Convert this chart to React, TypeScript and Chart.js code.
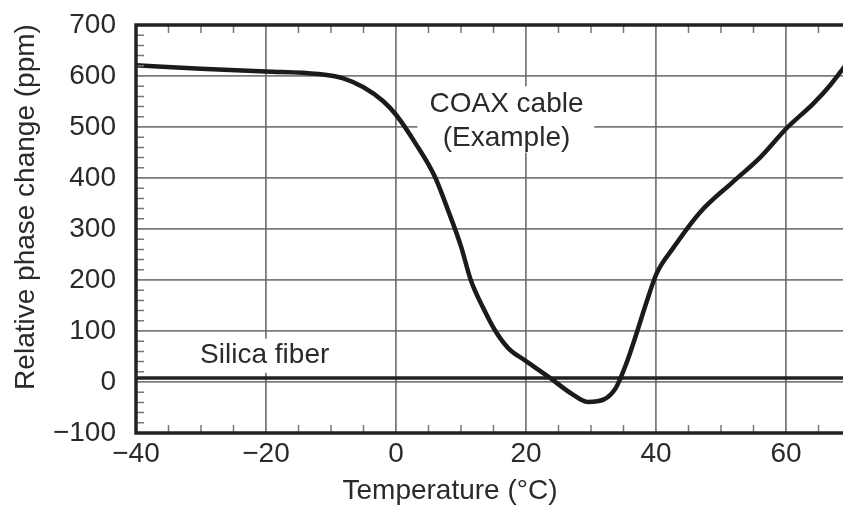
import React, { useEffect, useRef } from "react";
import { Chart, registerables } from "chart.js";

Chart.register(...registerables);

// Temperature (°C) and relative phase change (ppm)
const coaxTemp = [-40, -30, -20, -12, -8, -5, -2, 0, 3, 6, 8, 10, 11.5, 13.5, 15.2, 17.3, 20, 23.7, 26.9, 29.5, 32, 33.8, 35.4, 37, 38.5, 40.1, 42.6, 46.8, 51.8, 56, 60.2, 64.2, 66.8, 68.8, 70];
const coaxPpm = [621, 614, 609, 604, 595, 578, 551, 524, 468, 402, 337, 266, 200, 143, 102, 66, 41, 8, -22, -39, -34, -12, 35, 95, 155, 213, 262, 333, 392, 440, 499, 546, 582, 615, 635];
const silicaTemp = [-40, 70];
const silicaPpm = [8, 8];

const xTickValues = [-40, -20, 0, 20, 40, 60];
const yTickValues = [-100, 0, 100, 200, 300, 400, 500, 600, 700];

const xTitle = "Temperature (°C)";
const yTitle = "Relative phase change (ppm)";
const coaxLabel = ["COAX cable", "(Example)"];
const silicaLabel = "Silica fiber";

const FONT = "'Liberation Sans', Arial, Helvetica, sans-serif";
const TEXT_COLOR = "#2a2a2a";

const decorPlugin = {
  id: "decor",
  beforeDatasetsDraw(chart: any) {
    const { ctx } = chart;
    const xs = chart.scales.x;
    const ys = chart.scales.y;
    ctx.save();
    ctx.fillStyle = "#fff";
    // white boxes behind annotations
    ctx.fillRect(xs.getPixelForValue(3.3), ys.getPixelForValue(580), xs.getPixelForValue(30.5) - xs.getPixelForValue(3.3), ys.getPixelForValue(450) - ys.getPixelForValue(580));
    ctx.fillRect(xs.getPixelForValue(-31), ys.getPixelForValue(85), xs.getPixelForValue(-9) - xs.getPixelForValue(-31), ys.getPixelForValue(18) - ys.getPixelForValue(85));
    ctx.restore();
  },
  afterDraw(chart: any) {
    const { ctx, chartArea } = chart;
    const xs = chart.scales.x;
    const ys = chart.scales.y;
    const { left, right, top, bottom } = chartArea;
    ctx.save();
    // minor ticks
    ctx.strokeStyle = "#777";
    ctx.lineWidth = 1.5;
    const tl = 8;
    for (let v = -40; v <= 70; v += 5) {
      if (v % 20 === 0) continue;
      const px = xs.getPixelForValue(v);
      ctx.beginPath();
      ctx.moveTo(px, top); ctx.lineTo(px, top + tl);
      ctx.moveTo(px, bottom); ctx.lineTo(px, bottom - tl);
      ctx.stroke();
    }
    for (let v = -100; v <= 700; v += 20) {
      if (v % 100 === 0) continue;
      const py = ys.getPixelForValue(v);
      ctx.beginPath();
      ctx.moveTo(left, py); ctx.lineTo(left + tl, py);
      ctx.moveTo(right, py); ctx.lineTo(right - tl, py);
      ctx.stroke();
    }
    // frame
    ctx.strokeStyle = "#222";
    ctx.lineWidth = 3.5;
    ctx.strokeRect(left, top, right - left, bottom - top);

    // annotations
    ctx.fillStyle = TEXT_COLOR;
    ctx.font = `28px ${FONT}`;
    ctx.textAlign = "center";
    ctx.textBaseline = "middle";
    ctx.fillText(coaxLabel[0], xs.getPixelForValue(17), ys.getPixelForValue(545));
    ctx.fillText(coaxLabel[1], xs.getPixelForValue(17), ys.getPixelForValue(478));
    ctx.fillText(silicaLabel, xs.getPixelForValue(-20.2), ys.getPixelForValue(52));

    // axis titles
    ctx.fillText(xTitle, 450, 491);
    ctx.translate(26, 207);
    ctx.rotate(-Math.PI / 2);
    ctx.fillText(yTitle, 0, 0);
    ctx.restore();
  },
};

export default function App() {
  const canvasRef = useRef<HTMLCanvasElement | null>(null);

  useEffect(() => {
    if (!canvasRef.current) return;
    const chart = new Chart(canvasRef.current, {
      type: "line",
      data: {
        datasets: [
          {
            label: "COAX cable (Example)",
            data: coaxTemp.map((t, i) => ({ x: t, y: coaxPpm[i] })),
            borderColor: "#1b1b1b",
            borderWidth: 4.5,
            pointRadius: 0,
            cubicInterpolationMode: "monotone",
            fill: false,
          },
          {
            label: "Silica fiber",
            data: silicaTemp.map((t, i) => ({ x: t, y: silicaPpm[i] })),
            borderColor: "#222",
            borderWidth: 3.5,
            pointRadius: 0,
            fill: false,
          },
        ],
      },
      options: {
        responsive: false,
        animation: false,
        layout: { padding: { left: 0, right: 9, top: 25, bottom: 0 } },
        plugins: { legend: { display: false }, tooltip: { enabled: false }, title: { display: false } },
        scales: {
          x: {
            type: "linear",
            min: -40,
            max: 70,
            afterBuildTicks: (scale: any) => {
              scale.ticks = xTickValues.map((v) => ({ value: v }));
            },
            afterFit: (scale: any) => {
              scale.height = 73;
              scale.paddingLeft = 0;
              scale.paddingRight = 0;
            },
            ticks: {
              font: { family: FONT, size: 28 },
              color: TEXT_COLOR,
              padding: 4,
              maxRotation: 0,
              callback: (v: any) => (Number(v) < 0 ? "\u2212" + Math.abs(Number(v)) : String(v)),
            },
            grid: { color: "rgba(100,100,100,0.85)", lineWidth: 1.8, drawTicks: false },
            border: { display: false },
          },
          y: {
            type: "linear",
            min: -100,
            max: 700,
            afterBuildTicks: (scale: any) => {
              scale.ticks = yTickValues.map((v) => ({ value: v }));
            },
            afterFit: (scale: any) => {
              scale.width = 136;
              scale.paddingTop = 0;
              scale.paddingBottom = 0;
            },
            ticks: {
              font: { family: FONT, size: 28 },
              color: TEXT_COLOR,
              padding: 20,
              callback: (v: any) => (Number(v) < 0 ? "\u2212" + Math.abs(Number(v)) : String(v)),
            },
            grid: { color: "rgba(100,100,100,0.85)", lineWidth: 1.8, drawTicks: false },
            border: { display: false },
          },
        },
      },
      plugins: [decorPlugin],
    } as any);
    return () => chart.destroy();
  }, []);

  return (
    <div style={{ position: "fixed", left: 0, top: 0, width: 843, height: 506, overflow: "hidden", background: "#fff" }}>
      <canvas ref={canvasRef} width={860} height={506} style={{ display: "block" }} />
    </div>
  );
}
